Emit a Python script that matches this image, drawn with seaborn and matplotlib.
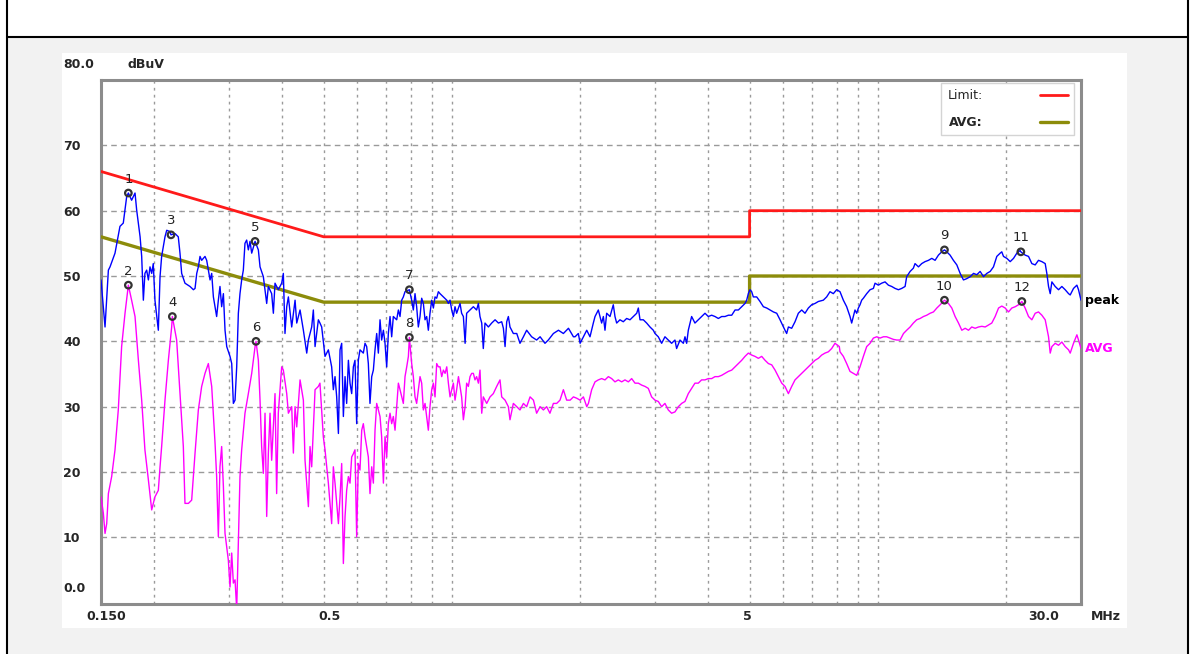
import numpy as np
import pandas as pd
import matplotlib
matplotlib.use('Agg')
import matplotlib.pyplot as plt
from matplotlib.patches import Rectangle
from matplotlib.lines import Line2D
import seaborn as sns

#%% data (MHz, dBuV)
peak_freq = [
    0.150, 0.1533, 0.1561, 0.1575, 0.1618, 0.1662, 0.1692, 0.1723, 0.1739, 0.1770,
    0.1803, 0.1819, 0.1853, 0.1869, 0.1886, 0.1902, 0.1920, 0.1938, 0.1955, 0.1973,
    0.1990, 0.2008, 0.2045, 0.2064, 0.2082, 0.2120, 0.2140, 0.2178, 0.2190, 0.2238,
    0.2278, 0.2299, 0.2320, 0.2362, 0.2427, 0.2472, 0.2494, 0.2517, 0.2539, 0.2562,
    0.2585, 0.2632, 0.2656, 0.2705, 0.2729, 0.2754, 0.2803, 0.2829, 0.2854, 0.2880,
    0.2907, 0.2933, 0.2960, 0.3013, 0.3041, 0.3068, 0.3096, 0.3124, 0.3152, 0.3180,
    0.3209, 0.3238, 0.3267, 0.3297, 0.3327, 0.3357, 0.3388, 0.3450, 0.3512, 0.3544,
    0.3608, 0.3641, 0.3674, 0.3707, 0.3774, 0.3809, 0.3843, 0.3912, 0.3984, 0.4020,
    0.4056, 0.4094, 0.4131, 0.4206, 0.4283, 0.4322, 0.4400, 0.4480, 0.4562, 0.4603,
    0.4686, 0.4728, 0.4772, 0.4858,
    0.490, 0.4946, 0.5036, 0.5128, 0.522, 0.5268, 0.5316, 0.5364, 0.5414, 0.5462,
    0.5511, 0.5561, 0.5612, 0.5661, 0.5714, 0.5765, 0.5817, 0.587, 0.5922, 0.5976,
    0.603, 0.6084, 0.6195, 0.6252, 0.6308, 0.6365, 0.6422, 0.6482, 0.654, 0.6599,
    0.6659, 0.6719, 0.678, 0.684, 0.6905, 0.6966, 0.7029, 0.7092, 0.7157, 0.7221,
    0.7286, 0.7419, 0.7487, 0.7554, 0.7623, 0.7691, 0.7761, 0.7946, 0.8046, 0.8118,
    0.8192, 0.8265, 0.834, 0.8417, 0.8493, 0.857, 0.8648, 0.8726, 0.8804, 0.8883,
    0.8966, 0.9047, 0.9128, 0.921, 0.9294, 0.9378, 0.955, 0.9725, 0.9812, 0.99,
    0.999, 1.008, 1.017, 1.026, 1.045, 1.054, 1.064, 1.074, 1.083, 1.103,
    1.123, 1.143, 1.154, 1.164, 1.175, 1.185, 1.196, 1.218, 1.240, 1.263,
    1.286, 1.309, 1.321, 1.333, 1.345, 1.357, 1.369, 1.394, 1.420, 1.445,
    1.472, 1.498, 1.539, 1.581, 1.611, 1.654, 1.684, 1.731, 1.779, 1.827,
    1.878, 1.929,
    1.946, 1.981, 2.000, 2.036, 2.073, 2.110, 2.148, 2.168, 2.207, 2.247,
    2.268, 2.288, 2.309, 2.351, 2.393, 2.415, 2.437, 2.481, 2.526, 2.572,
    2.619, 2.667, 2.716, 2.740, 2.765, 2.815, 2.866, 2.918, 2.971, 2.998,
    3.052, 3.080, 3.108, 3.164, 3.222, 3.280, 3.340, 3.370, 3.432, 3.495,
    3.526, 3.558, 3.590, 3.623, 3.655, 3.721, 3.789, 3.857, 3.929, 4.000,
    4.073, 4.147, 4.223, 4.300, 4.378, 4.458, 4.540, 4.622, 4.706, 4.791,
    4.878, 4.922, 4.966, 5.011, 5.057, 5.102, 5.196, 5.290, 5.387, 5.485,
    5.585, 5.687, 5.790, 5.895, 6.003, 6.055, 6.110, 6.167, 6.278, 6.392,
    6.508, 6.627, 6.747, 6.870, 6.995, 7.122, 7.251, 7.449, 7.584, 7.723,
    7.863, 8.005,
    8.152, 8.301, 8.451, 8.605, 8.683, 8.762, 8.840, 8.922, 9.003, 9.084,
    9.166, 9.250, 9.418, 9.590, 9.764, 9.852, 10.03, 10.21, 10.40, 10.59,
    10.78, 10.98, 11.18, 11.38, 11.59, 11.69, 11.91, 12.12, 12.23, 12.46,
    12.68, 12.91, 13.15, 13.39, 13.63, 13.88, 14.13, 14.34, 14.52, 14.78,
    15.05, 15.33, 15.61, 15.89, 16.18, 16.48, 16.78, 17.08, 17.39, 17.71,
    18.03, 18.36, 18.69, 19.03, 19.38, 19.55, 19.73, 20.09, 20.46, 20.83,
    21.21, 21.59, 21.67, 22.18, 22.59, 23.00, 23.42, 23.84, 24.28, 24.72,
    24.94, 25.17, 25.40, 25.63, 26.09, 26.57, 27.05, 27.54, 28.05, 28.30,
    28.81, 29.34, 29.60, 30.0,
]
peak_level = [
    49.4, 42.2, 50.9, 51.4, 53.5, 57.6, 58.1, 62.1, 62.7, 61.6,
    62.7, 60.1, 56.0, 53.0, 46.3, 50.4, 50.9, 49.4, 51.4, 50.4,
    51.9, 46.3, 41.7, 49.9, 53.0, 56.0, 57.0, 56.8, 56.3, 56.5,
    56.0, 53.5, 50.4, 48.9, 48.4, 47.9, 48.1, 50.4, 51.4, 53.0,
    52.4, 53.0, 52.4, 49.4, 50.4, 46.8, 43.8, 46.3, 48.4, 45.3,
    47.3, 41.7, 39.2, 37.7, 36.6, 30.5, 31.0, 36.1, 44.3, 47.3,
    49.4, 50.9, 55.0, 55.5, 54.0, 55.3, 53.5, 55.3, 54.0, 51.4,
    49.9, 47.9, 45.8, 48.4, 47.3, 44.3, 48.9, 47.9, 48.9, 50.4,
    41.2, 45.3, 46.8, 42.2, 46.3, 42.8, 44.8, 41.7, 38.2, 40.2,
    42.2, 44.8, 39.2, 43.3,
    42.8, 42.2, 37.7, 38.7, 36.1, 32.6, 34.6, 31.5, 25.9, 38.7,
    39.7, 28.5, 34.6, 30.5, 37.1, 33.6, 32.0, 36.1, 37.1, 27.4,
    37.1, 38.7, 38.2, 39.7, 39.2, 36.6, 30.5, 34.6, 35.6, 38.7,
    41.2, 38.2, 43.3, 40.2, 41.7, 39.7, 36.1, 41.2, 43.8, 40.7,
    43.8, 43.3, 44.8, 43.8, 46.3, 46.8, 47.6, 47.9, 46.3, 44.8,
    47.3, 45.3, 42.2, 43.8, 46.6, 45.8, 43.3, 43.8, 41.7, 44.3,
    46.3, 45.1, 46.8, 46.6, 47.6, 47.3, 46.8, 46.3, 45.8, 46.3,
    44.8, 43.8, 45.3, 44.3, 45.8, 44.3, 43.8, 39.7, 44.3, 44.8,
    45.3, 44.8, 45.8, 43.8, 42.8, 38.9, 42.8, 42.2, 42.8, 43.3,
    42.8, 43.0, 42.0, 39.2, 43.0, 43.8, 42.2, 41.2, 41.2, 39.7,
    40.7, 41.7, 40.7, 40.2, 40.7, 39.7, 40.2, 41.2, 41.7, 41.2,
    42.0, 40.7,
    40.7, 41.2, 39.7, 40.7, 41.7, 40.7, 42.8, 43.8, 44.8, 42.8,
    43.8, 41.7, 44.3, 43.8, 45.6, 43.8, 42.8, 43.3, 43.0, 43.5,
    43.3, 43.8, 44.3, 45.1, 43.3, 43.3, 42.8, 42.2, 41.7, 41.2,
    40.7, 40.2, 39.7, 40.7, 40.2, 39.7, 40.2, 38.9, 40.2, 39.7,
    40.7, 39.7, 41.7, 42.8, 43.8, 42.8, 43.3, 43.8, 44.3, 43.8,
    44.0, 43.8, 43.5, 43.8, 43.8, 44.0, 44.0, 44.8, 44.8, 45.3,
    45.8, 46.3, 47.3, 47.9, 47.6, 46.8, 46.8, 46.1, 45.3, 45.1,
    44.8, 44.5, 44.3, 43.3, 42.2, 41.7, 41.2, 42.2, 42.0, 43.0,
    44.3, 44.8, 44.3, 45.1, 45.6, 45.8, 46.1, 46.3, 46.8, 47.6,
    47.3, 47.9,
    47.6, 46.3, 45.3, 43.8, 42.8, 43.8, 44.8, 44.3, 45.1, 45.6,
    46.3, 46.6, 47.3, 47.9, 48.1, 48.9, 48.6, 48.9, 49.1, 48.6,
    48.4, 48.1, 47.9, 48.1, 48.4, 49.9, 50.7, 51.2, 51.9, 51.4,
    51.9, 52.2, 52.4, 52.7, 52.4, 53.2, 53.7, 54.0, 53.7, 53.2,
    52.4, 51.7, 50.4, 49.4, 49.6, 49.9, 50.4, 50.2, 50.7, 49.9,
    50.4, 50.7, 51.4, 53.0, 53.5, 53.7, 53.0, 52.7, 52.2, 52.7,
    53.5, 53.9, 53.7, 53.2, 53.0, 51.9, 51.7, 52.4, 52.2, 51.9,
    50.4, 48.4, 47.3, 49.1, 48.4, 47.9, 48.4, 47.9, 47.3, 47.1,
    48.1, 48.6, 47.9, 46.3,
]

avg_freq = [
    0.150, 0.1519, 0.1533, 0.1547, 0.1561, 0.1589, 0.1618, 0.1647, 0.1677, 0.1708,
    0.1739, 0.1770, 0.1803, 0.1836, 0.1869, 0.1902, 0.1938, 0.1973, 0.2008, 0.2045,
    0.2064, 0.2082, 0.2120, 0.2159, 0.2198, 0.2206, 0.2258, 0.2299, 0.2341, 0.2362,
    0.2406, 0.2449, 0.2494, 0.2539, 0.2585, 0.2632, 0.2680, 0.2729, 0.2779, 0.2803,
    0.2829, 0.2854, 0.2880, 0.2907, 0.2933, 0.2986, 0.3013, 0.3041, 0.3068, 0.3096,
    0.3124, 0.3152, 0.3180, 0.3209, 0.3267, 0.3327, 0.3388, 0.3450, 0.3468, 0.3512,
    0.3544, 0.3575, 0.3608, 0.3641, 0.3674, 0.3707, 0.3741, 0.3774, 0.3843, 0.3877,
    0.3912, 0.3984, 0.4020, 0.4094, 0.4131, 0.4206, 0.4244, 0.4283, 0.4322, 0.4400,
    0.4480, 0.4520, 0.4603, 0.4644, 0.4686, 0.4772, 0.4858,
    0.490, 0.499, 0.5036, 0.5128, 0.5175, 0.522, 0.5268, 0.5316, 0.5364, 0.5414,
    0.5462, 0.5511, 0.5561, 0.5612, 0.5661, 0.5714, 0.5765, 0.5817, 0.587, 0.5922,
    0.5976, 0.603, 0.6084, 0.6141, 0.6195, 0.6252, 0.6308, 0.6365, 0.6422, 0.6482,
    0.654, 0.6599, 0.6659, 0.6719, 0.678, 0.684, 0.6905, 0.6966, 0.7029, 0.7092,
    0.7157, 0.7221, 0.7286, 0.7353, 0.7419, 0.7487, 0.7554, 0.7623, 0.7691, 0.7761,
    0.7833, 0.7904, 0.7946, 0.8046, 0.8118, 0.8192, 0.8265, 0.834, 0.8417, 0.8493,
    0.857, 0.8648, 0.8726, 0.8804, 0.8883, 0.8966, 0.9047, 0.9128, 0.921, 0.9294,
    0.9378, 0.9464, 0.955, 0.9638, 0.9725, 0.9812, 0.99, 0.999, 1.008, 1.017,
    1.026, 1.036, 1.045, 1.054, 1.064, 1.074, 1.083, 1.093, 1.103, 1.113,
    1.123, 1.133, 1.143, 1.154, 1.164, 1.175, 1.185, 1.207, 1.229, 1.251,
    1.274, 1.297, 1.309, 1.333, 1.357, 1.369, 1.394, 1.420, 1.445, 1.472,
    1.498, 1.526, 1.554, 1.581, 1.611, 1.640, 1.669, 1.699, 1.731, 1.762,
    1.794, 1.827, 1.860, 1.895, 1.929,
    1.963, 2.000, 2.036, 2.073, 2.092, 2.129, 2.168, 2.207, 2.247, 2.288,
    2.330, 2.372, 2.415, 2.459, 2.504, 2.549, 2.596, 2.643, 2.691, 2.740,
    2.790, 2.841, 2.892, 2.944, 2.998, 3.052, 3.108, 3.164, 3.222, 3.280,
    3.340, 3.402, 3.463, 3.526, 3.590, 3.655, 3.721, 3.789, 3.857, 3.929,
    4.000, 4.073, 4.147, 4.223, 4.300, 4.378, 4.458, 4.540, 4.622, 4.706,
    4.791, 4.878, 4.966, 5.057, 5.148, 5.243, 5.338, 5.436, 5.535, 5.636,
    5.738, 5.843, 5.949, 6.055, 6.167, 6.278, 6.392, 6.508, 6.627, 6.747,
    6.870, 6.995, 7.122, 7.251, 7.383, 7.516, 7.654, 7.793, 7.934, 8.122,
    8.152, 8.301, 8.451, 8.605, 8.762, 8.922, 9.084, 9.250, 9.418, 9.590,
    9.764, 9.942, 10.12, 10.31, 10.49, 10.69, 10.88, 11.08, 11.28, 11.49,
    11.69, 11.91, 12.12, 12.34, 12.57, 12.80, 13.03, 13.27, 13.51, 13.76,
    14.01, 14.34, 14.65, 14.92, 15.19, 15.47, 15.75, 16.04, 16.33, 16.62,
    16.93, 17.24, 17.55, 17.87, 18.19, 18.52, 18.86, 19.21, 19.55, 19.91,
    20.27, 20.64, 21.02, 21.40, 21.79, 22.18, 22.59, 23.00, 23.42, 23.84,
    24.28, 24.72, 25.17, 25.40, 25.63, 26.09, 26.57, 27.05, 27.54, 28.05,
    28.30, 28.81, 29.34, 29.60, 30.0,
]
avg_level = [
    16.2, 13.7, 10.6, 12.1, 16.7, 19.3, 23.4, 29.5, 39.2, 44.3,
    48.6, 46.3, 43.8, 37.1, 31.0, 23.4, 18.8, 14.2, 16.2, 17.2,
    20.8, 23.9, 31.0, 37.1, 42.2, 43.8, 40.2, 32.0, 23.9, 15.2,
    15.2, 15.7, 22.9, 29.5, 33.1, 35.1, 36.6, 33.1, 24.4, 19.3,
    10.1, 20.8, 23.9, 17.8, 10.6, 6.5, 2.4, 7.6, 3.0, 3.5,
    -1.0, 9.1, 19.3, 23.4, 29.0, 32.0, 35.1, 39.2, 40.0, 37.1,
    31.0, 23.9, 19.8, 29.0, 13.2, 22.9, 29.0, 21.8, 32.0, 16.7,
    29.0, 36.1, 35.6, 32.0, 29.0, 30.0, 22.9, 30.0, 26.9, 34.1,
    31.0, 21.8, 14.7, 23.9, 20.8, 32.6, 33.1,
    33.6, 25.4, 23.4, 18.3, 15.2, 12.1, 20.8, 18.3, 15.2, 12.1,
    16.2, 21.3, 6.0, 13.2, 17.2, 19.3, 18.3, 22.3, 22.8, 23.4,
    10.1, 21.3, 20.3, 26.4, 27.4, 25.4, 23.9, 22.3, 16.7, 20.8,
    18.3, 26.4, 30.5, 29.5, 28.5, 25.4, 18.3, 25.4, 22.3, 27.4,
    29.0, 27.4, 28.5, 26.4, 30.0, 33.6, 32.6, 31.5, 30.5, 34.6,
    36.1, 37.7, 40.6, 36.6, 34.6, 31.5, 30.5, 32.6, 34.6, 33.6,
    29.5, 30.5, 28.5, 26.4, 30.0, 32.6, 33.6, 31.5, 36.6, 36.1,
    36.1, 34.6, 35.6, 35.1, 36.1, 33.6, 31.5, 32.6, 33.6, 31.0,
    32.6, 34.6, 33.1, 31.5, 28.0, 30.0, 33.6, 33.1, 34.6, 35.1,
    35.1, 34.1, 34.6, 33.6, 35.6, 29.0, 31.5, 30.5, 31.5, 32.0,
    33.1, 34.1, 31.5, 31.0, 30.0, 28.0, 30.5, 30.0, 29.5, 30.5,
    30.0, 31.5, 31.0, 29.0, 30.0, 29.5, 30.0, 29.0, 30.5, 30.5,
    31.0, 32.6, 31.0, 31.0, 31.5,
    31.3, 31.0, 31.5, 30.0, 30.5, 32.6, 33.8, 34.1, 34.3, 34.1,
    34.6, 34.3, 33.8, 34.1, 33.8, 34.1, 33.8, 34.3, 33.6, 33.6,
    33.3, 33.1, 32.8, 31.5, 31.0, 30.8, 30.0, 30.5, 29.5, 29.0,
    29.2, 30.0, 30.5, 30.8, 32.0, 32.8, 33.6, 33.6, 34.1, 34.1,
    34.3, 34.3, 34.6, 34.6, 34.8, 35.1, 35.4, 35.6, 36.1, 36.6,
    37.1, 37.7, 38.2, 37.9, 37.7, 37.4, 37.7, 37.1, 36.6, 36.4,
    35.6, 34.6, 33.6, 33.1, 32.0, 33.1, 34.1, 34.6, 35.1, 35.6,
    36.1, 36.6, 37.1, 37.4, 37.9, 38.2, 38.4, 38.9, 39.7, 39.2,
    38.4, 37.7, 36.6, 35.4, 35.1, 34.8, 36.1, 37.7, 39.2, 39.7,
    40.5, 40.7, 40.5, 40.7, 40.7, 40.5, 40.3, 40.2, 40.2, 41.2,
    41.7, 42.2, 42.8, 43.3, 43.5, 43.8, 44.0, 44.3, 44.5, 45.1,
    45.6, 46.3, 45.8, 45.1, 43.8, 42.8, 41.7, 42.0, 41.7, 42.2,
    42.0, 42.2, 42.3, 42.2, 42.5, 42.8, 43.8, 45.1, 45.4, 45.1,
    44.5, 45.1, 45.3, 45.6, 46.1, 45.1, 43.8, 43.3, 44.3, 44.5,
    44.0, 43.3, 40.7, 38.2, 39.2, 39.7, 39.4, 39.9, 39.2, 38.7,
    38.2, 39.7, 41.0, 40.2, 38.9,
]

# EN 55022 class B limits (quasi-peak and average)
limit_freq = [0.15, 0.5, 5.0, 5.0, 30.0]
qp_limit = [66.0, 56.0, 56.0, 60.0, 60.0]
avg_limit = [56.0, 46.0, 46.0, 50.0, 50.0]

# numbered markers
marker_id = ['1', '2', '3', '4', '5', '6', '7', '8', '9', '10', '11', '12']
marker_freq = [0.1739, 0.1739, 0.2190, 0.2206, 0.3450, 0.3468,
               0.7946, 0.7946, 14.34, 14.34, 21.67, 21.79]
marker_level = [62.7, 48.6, 56.3, 43.8, 55.3, 40.0,
                47.9, 40.6, 54.0, 46.3, 53.7, 46.1]

grid_freq = [0.2, 0.3, 0.4, 0.5, 0.6, 0.7, 0.8, 0.9, 1, 2, 3, 4, 5, 6, 7, 8, 9, 10, 20]
y_ticks = [10, 20, 30, 40, 50, 60, 70]
x_labels = ['0.150', '0.5', '5', '30.0']
x_label_freq = [0.15, 0.5, 5.0, 30.0]

peak_df = pd.DataFrame({'MHz': peak_freq, 'dBuV': peak_level})
avg_df = pd.DataFrame({'MHz': avg_freq, 'dBuV': avg_level})
lim_df = pd.DataFrame({'MHz': limit_freq, 'qp': qp_limit, 'avg': avg_limit})
mk_df = pd.DataFrame({'MHz': marker_freq, 'dBuV': marker_level})

#%% figure / page frame
sns.set_style('white')
plt.rcParams['font.family'] = ['DejaVu Sans']

W, H = 1190, 654
fig = plt.figure(figsize=(W / 100, H / 100), dpi=100)
fig.patch.set_facecolor('white')

def fx(px):
    return px / W

def fy(py):
    return 1 - py / H

fig.add_artist(Rectangle((fx(7), 0), fx(1188) - fx(7), fy(37), transform=fig.transFigure,
                         facecolor='#f2f2f2', edgecolor='none', zorder=-3))
fig.add_artist(Rectangle((fx(62), fy(628)), fx(1127) - fx(62), fy(53) - fy(628),
                         transform=fig.transFigure, facecolor='white', edgecolor='none', zorder=-2))
fig.add_artist(Line2D([fx(7), fx(7)], [0, 1], color='black', lw=1.5))
fig.add_artist(Line2D([fx(1188), fx(1188)], [0, 1], color='black', lw=1.5))
fig.add_artist(Line2D([fx(7), fx(1188)], [fy(36.5), fy(36.5)], color='black', lw=1.5))

ax = fig.add_axes([fx(101), fy(604), fx(1081) - fx(101), fy(80) - fy(604)])
ax.set_facecolor('white')

#%% traces
sns.lineplot(data=lim_df, x='MHz', y='qp', ax=ax, color='#ff1a1a', lw=2.0,
             estimator=None, sort=False, label='Limit:', zorder=3)
sns.lineplot(data=lim_df, x='MHz', y='avg', ax=ax, color='#8c8c0a', lw=2.4,
             estimator=None, sort=False, label='AVG:', zorder=3)
sns.lineplot(data=avg_df, x='MHz', y='dBuV', ax=ax, color='#ff00ff', lw=1.0,
             estimator=None, sort=False, legend=False, zorder=4)
sns.lineplot(data=peak_df, x='MHz', y='dBuV', ax=ax, color='#0000ff', lw=1.0,
             estimator=None, sort=False, legend=False, zorder=5)
sns.scatterplot(data=mk_df, x='MHz', y='dBuV', ax=ax, marker='o', s=22,
                facecolor='none', edgecolor='#333333', linewidth=1.6, zorder=6, legend=False)
for lab, f, v in zip(marker_id, marker_freq, marker_level):
    ax.annotate(lab, xy=(f, v), xytext=(0, 14), textcoords='offset pixels',
                ha='center', va='center', fontsize=9.5, color='#222222', zorder=7)

#%% axes
ax.set_xscale('log')
ax.set_xlim(0.15, 30)
ax.set_ylim(-0.2, 80)
ax.set_xticks([])
ax.set_xticks(grid_freq, minor=True)
ax.xaxis.set_minor_formatter(plt.NullFormatter())
ax.set_yticks(y_ticks)
ax.set_yticklabels([str(t) for t in y_ticks], ha='left', fontsize=9, fontweight='bold')
ax.tick_params(axis='both', which='both', length=0)
ax.tick_params(axis='y', pad=27.4)
ax.grid(which='minor', axis='x', color='#9a9a9a', ls=(0, (2, 3)), lw=1.0)
ax.grid(which='major', axis='y', color='#9a9a9a', ls=(0, (4, 3)), lw=1.0)
ax.set_axisbelow(True)
ax.set_xlabel('')
ax.set_ylabel('')
for sp in ax.spines.values():
    sp.set_color('#8c8c8c')
    sp.set_linewidth(2.2)

# x labels sit slightly off their frequencies like the original printout
x_label_dx = [5, 6, -2, -37]
for lab, f, dx in zip(x_labels, x_label_freq, x_label_dx):
    ax.annotate(lab, xy=(f, 0), xycoords=('data', 'axes fraction'), xytext=(dx, -13),
                textcoords='offset pixels', ha='center', va='center', fontsize=9, fontweight='bold')
ax.annotate('MHz', xy=(1, 0), xycoords='axes fraction', xytext=(25, -13),
            textcoords='offset pixels', ha='center', va='center', fontsize=9, fontweight='bold')
ax.annotate('0.0', xy=(0, 0), xycoords='axes fraction', xytext=(-38, 16),
            textcoords='offset pixels', ha='left', va='center', fontsize=9, fontweight='bold')
ax.annotate('80.0', xy=(0, 1), xycoords='axes fraction', xytext=(-38, 15),
            textcoords='offset pixels', ha='left', va='center', fontsize=9, fontweight='bold')
ax.annotate('dBuV', xy=(0, 1), xycoords='axes fraction', xytext=(26, 15),
            textcoords='offset pixels', ha='left', va='center', fontsize=9, fontweight='bold')

# trace names at the right end
ax.annotate('peak', xy=(peak_freq[-1], peak_level[-1]), xytext=(4, 0), textcoords='offset pixels',
            ha='left', va='center', fontsize=9, fontweight='bold', color='black', annotation_clip=False)
ax.annotate('AVG', xy=(avg_freq[-1], avg_level[-1]), xytext=(4, 0), textcoords='offset pixels',
            ha='left', va='center', fontsize=9, fontweight='bold', color='#ff00ff', annotation_clip=False)

#%% legend
leg = ax.legend(loc='upper right', bbox_to_anchor=(0.993, 0.994), markerfirst=False,
                frameon=True, fancybox=False, framealpha=1, edgecolor='#d4d4d4',
                fontsize=9, handlelength=2.2, handletextpad=4.6, labelspacing=1.1,
                borderpad=0.5, borderaxespad=0)
leg.get_frame().set_linewidth(1.0)
leg.get_texts()[1].set_fontweight('bold')

fig.savefig('out.png', dpi=100)
